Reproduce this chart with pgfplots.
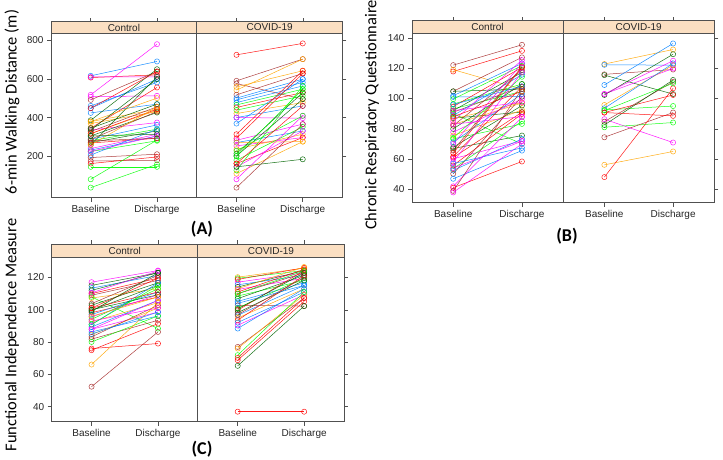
\documentclass[border=0pt]{standalone}
\usepackage{fontspec}
\setmainfont{Liberation Sans}
\newfontfamily\calfont{Carlito}
\usepackage{pgfplots}
\pgfplotsset{compat=1.18}
\definecolor{cB}{HTML}{0080FF}
\definecolor{cM}{HTML}{FF00FF}
\definecolor{cD}{HTML}{006400}
\definecolor{cR}{HTML}{FF0000}
\definecolor{cO}{HTML}{FFA500}
\definecolor{cG}{HTML}{00FF00}
\definecolor{cW}{HTML}{A52A2A}
\definecolor{stripcol}{HTML}{FBDFC2}
\definecolor{framecol}{HTML}{505050}
\pgfplotsset{
  lb/.style={color=cB}, lm/.style={color=cM}, ld/.style={color=cD},
  lr/.style={color=cR}, lo/.style={color=cO}, lg/.style={color=cG}, lw/.style={color=cW},
  panel/.style={
    scale only axis, anchor=south west, clip=false,
    xmin=0.4, xmax=4.8,
    xtick={1,2,3.2,4.2}, xticklabels={Baseline,Discharge,Baseline,Discharge},
    tick align=outside, xtick pos=bottom,
    major tick length=4pt,
    tick style={framecol, line width=0.5pt},
    axis line style={framecol, line width=0.6pt},
    ticklabel style={font=\fontsize{10}{12}\selectfont, text=black!85},
    /pgf/number format/assume math mode=true,
    every axis plot/.append style={line width=0.5pt, mark=o, mark size=2.6pt, mark options={solid, line width=0.5pt}, opacity=0.9},
  },
}
\newcommand{\strips}[1]{%
  \draw[framecol, line width=0.6pt, fill=stripcol] (rel axis cs:0,1) rectangle ([yshift=#1]rel axis cs:1,1);
  \draw[framecol, line width=1.1pt] (rel axis cs:0.5,0) -- ([yshift=#1]rel axis cs:0.5,1);
  \node[font=\fontsize{10}{12}\selectfont, text=black!85] at ([yshift=#1/2]rel axis cs:0.25,1) {Control};
  \node[font=\fontsize{10}{12}\selectfont, text=black!85] at ([yshift=#1/2]rel axis cs:0.75,1) {COVID-19};
  \draw[framecol, line width=0.5pt] ([yshift=#1]rel axis cs:0.13636,1) -- ([yshift=#1+4pt]rel axis cs:0.13636,1);
  \draw[framecol, line width=0.5pt] ([yshift=#1]rel axis cs:0.36364,1) -- ([yshift=#1+4pt]rel axis cs:0.36364,1);
  \draw[framecol, line width=0.5pt] ([yshift=#1]rel axis cs:0.63636,1) -- ([yshift=#1+4pt]rel axis cs:0.63636,1);
  \draw[framecol, line width=0.5pt] ([yshift=#1]rel axis cs:0.86364,1) -- ([yshift=#1+4pt]rel axis cs:0.86364,1);
}
\begin{document}
\begin{tikzpicture}
\path[use as bounding box] (0,0) rectangle (723pt,459pt);
% ---------------- Panel A ----------------
\begin{axis}[panel, at={(51pt,261.3pt)}, width=291.5pt, height=164.4pt,
  ymin=-12, ymax=835, ytick={200,400,600,800}]
\addplot[lb] coordinates {(1,616) (2,690)};
\addplot[lr] coordinates {(1,607) (2,621)};
\addplot[lm] coordinates {(1,610) (2,611)};
\addplot[lm] coordinates {(1,518) (2,779)};
\addplot[lm] coordinates {(1,508) (2,513)};
\addplot[lw] coordinates {(1,492) (2,638)};
\addplot[lb] coordinates {(1,461) (2,582)};
\addplot[lb] coordinates {(1,449) (2,599)};
\addplot[lb] coordinates {(1,425) (2,470)};
\addplot[ld] coordinates {(1,387) (2,650)};
\addplot[lo] coordinates {(1,380) (2,444)};
\addplot[lo] coordinates {(1,370) (2,432)};
\addplot[lr] coordinates {(1,346) (2,556)};
\addplot[lm] coordinates {(1,337) (2,375)};
\addplot[lw] coordinates {(1,329) (2,456)};
\addplot[lo] coordinates {(1,318) (2,439)};
\addplot[ld] coordinates {(1,306) (2,427)};
\addplot[lb] coordinates {(1,289) (2,363)};
\addplot[lg] coordinates {(1,281) (2,341)};
\addplot[ld] coordinates {(1,272) (2,332)};
\addplot[ld] coordinates {(1,260) (2,611)};
\addplot[lr] coordinates {(1,270) (2,294)};
\addplot[lm] coordinates {(1,241) (2,315)};
\addplot[lb] coordinates {(1,233) (2,306)};
\addplot[lg] coordinates {(1,226) (2,281)};
\addplot[lb] coordinates {(1,208) (2,341)};
\addplot[lw] coordinates {(1,195) (2,212)};
\addplot[lw] coordinates {(1,177) (2,181)};
\addplot[lr] coordinates {(1,164) (2,198)};
\addplot[lg] coordinates {(1,147) (2,147)};
\addplot[lg] coordinates {(1,40) (2,160)};
\addplot[lg] coordinates {(1,83) (2,285)};
\addplot[lo] coordinates {(1,380) (2,501)};
\addplot[ld] coordinates {(1,346) (2,470)};
\addplot[lr] coordinates {(1,318) (2,444)};
\addplot[lw] coordinates {(1,289) (2,432)};
\addplot[lo] coordinates {(1,260) (2,456)};
\addplot[lm] coordinates {(1,226) (2,306)};
\addplot[ld] coordinates {(1,337) (2,599)};
\addplot[lr] coordinates {(1,449) (2,638)};
\addplot[lw] coordinates {(1,281) (2,294)};
\addplot[ld] coordinates {(1,306) (2,315)};
% COVID
\addplot[lr] coordinates {(3.2,724) (4.2,783)};
\addplot[lw] coordinates {(3.2,590) (4.2,702)};
\addplot[lw] coordinates {(3.2,576) (4.2,496)};
\addplot[lo] coordinates {(3.2,559) (4.2,642)};
\addplot[lo] coordinates {(3.2,542) (4.2,702)};
\addplot[lw] coordinates {(3.2,518) (4.2,628)};
\addplot[lb] coordinates {(3.2,501) (4.2,599)};
\addplot[lb] coordinates {(3.2,492) (4.2,582)};
\addplot[lb] coordinates {(3.2,478) (4.2,564)};
\addplot[lg] coordinates {(3.2,466) (4.2,547)};
\addplot[lr] coordinates {(3.2,453) (4.2,530)};
\addplot[lg] coordinates {(3.2,439) (4.2,513)};
\addplot[lo] coordinates {(3.2,422) (4.2,478)};
\addplot[lb] coordinates {(3.2,401) (4.2,461)};
\addplot[lb] coordinates {(3.2,370) (4.2,599)};
\addplot[lm] coordinates {(3.2,401) (4.2,398)};
\addplot[lr] coordinates {(3.2,315) (4.2,642)};
\addplot[lr] coordinates {(3.2,294) (4.2,628)};
\addplot[lm] coordinates {(3.2,284) (4.2,367)};
\addplot[lb] coordinates {(3.2,272) (4.2,332)};
\addplot[lm] coordinates {(3.2,255) (4.2,298)};
\addplot[lo] coordinates {(3.2,238) (4.2,315)};
\addplot[ld] coordinates {(3.2,215) (4.2,530)};
\addplot[ld] coordinates {(3.2,203) (4.2,496)};
\addplot[lg] coordinates {(3.2,181) (4.2,353)};
\addplot[lr] coordinates {(3.2,164) (4.2,298)};
\addplot[lm] coordinates {(3.2,147) (4.2,332)};
\addplot[lg] coordinates {(3.2,129) (4.2,564)};
\addplot[lo] coordinates {(3.2,112) (4.2,277)};
\addplot[lm] coordinates {(3.2,83) (4.2,410)};
\addplot[lw] coordinates {(3.2,40) (4.2,367)};
\addplot[ld] coordinates {(3.2,147) (4.2,186)};
\addplot[lg] coordinates {(3.2,230) (4.2,410)};
\addplot[lo] coordinates {(3.2,272) (4.2,277)};
\addplot[lg] coordinates {(3.2,203) (4.2,547)};
\addplot[lr] coordinates {(3.2,164) (4.2,461)};
\strips{11.6pt}
\end{axis}
% ---------------- Panel B ----------------
\begin{axis}[panel, at={(412pt,256.3pt)}, width=302.3pt, height=169.4pt,
  ymin=31.2, ymax=143, ytick={40,60,...,140}]
\addplot[lw] coordinates {(1,122) (2,135.4)};
\addplot[lr] coordinates {(1,117.8) (2,131.4)};
\addplot[lo] coordinates {(1,119) (2,106)};
\addplot[lw] coordinates {(1,104.7) (2,127.1)};
\addplot[ld] coordinates {(1,104.7) (2,106.2)};
\addplot[lb] coordinates {(1,101.8) (2,123.1)};
\addplot[lb] coordinates {(1,101) (2,101.2)};
\addplot[lg] coordinates {(1,99.6) (2,121.6)};
\addplot[lg] coordinates {(1,96.3) (2,109.5)};
\addplot[lr] coordinates {(1,94.6) (2,120.5)};
\addplot[lg] coordinates {(1,93.1) (2,104.7)};
\addplot[ld] coordinates {(1,92) (2,117.2)};
\addplot[lw] coordinates {(1,90.9) (2,107.8)};
\addplot[lg] coordinates {(1,90) (2,70)};
\addplot[lb] coordinates {(1,88.7) (2,115.7)};
\addplot[ld] coordinates {(1,87) (2,91)};
\addplot[lo] coordinates {(1,86.5) (2,97.4)};
\addplot[lm] coordinates {(1,85) (2,125.3)};
\addplot[lo] coordinates {(1,82.8) (2,97)};
\addplot[lw] coordinates {(1,82) (2,118.7)};
\addplot[ld] coordinates {(1,79.9) (2,109.5)};
\addplot[lm] coordinates {(1,77.7) (2,99.7)};
\addplot[lo] coordinates {(1,75.5) (2,92.4)};
\addplot[lg] coordinates {(1,74) (2,114.3)};
\addplot[lg] coordinates {(1,73.3) (2,83.2)};
\addplot[lb] coordinates {(1,71.1) (2,103)};
\addplot[ld] coordinates {(1,67.8) (2,95.3)};
\addplot[ld] coordinates {(1,67) (2,75.5)};
\addplot[lw] coordinates {(1,65.7) (2,121)};
\addplot[lr] coordinates {(1,61.7) (2,107.8)};
\addplot[lr] coordinates {(1,61) (2,90.9)};
\addplot[lm] coordinates {(1,60.2) (2,72)};
\addplot[lm] coordinates {(1,58) (2,117.2)};
\addplot[lr] coordinates {(1,55.8) (2,89.8)};
\addplot[lg] coordinates {(1,53.6) (2,85)};
\addplot[lb] coordinates {(1,52.5) (2,73.3)};
\addplot[lw] coordinates {(1,50.3) (2,101.2)};
\addplot[lb] coordinates {(1,47) (2,65.6)};
\addplot[lm] coordinates {(1,42) (2,87.6)};
\addplot[lr] coordinates {(1,41.1) (2,58.4)};
\addplot[lw] coordinates {(1,39) (2,106.2)};
\addplot[lm] coordinates {(1,38) (2,70)};
\addplot[lb] coordinates {(1,57) (2,67.4)};
\addplot[lm] coordinates {(1,54) (2,71.8)};
\addplot[lr] coordinates {(1,64) (2,120.5)};
\addplot[lm] coordinates {(1,92) (2,97.4)};
\addplot[lm] coordinates {(1,83) (2,88)};
\addplot[lb] coordinates {(1,96) (2,108)};
\addplot[lm] coordinates {(1,70) (2,123.1)};
\addplot[lr] coordinates {(1,88) (2,104.7)};
% COVID
\addplot[lo] coordinates {(3.2,122.7) (4.2,132.3)};
\addplot[lb] coordinates {(3.2,122.2) (4.2,122)};
\addplot[lw] coordinates {(3.2,115.9) (4.2,119.1)};
\addplot[ld] coordinates {(3.2,115.4) (4.2,102.9)};
\addplot[lb] coordinates {(3.2,108.9) (4.2,136.3)};
\addplot[lm] coordinates {(3.2,102.9) (4.2,119.8)};
\addplot[ld] coordinates {(3.2,102.3) (4.2,129.2)};
\addplot[lo] coordinates {(3.2,95.7) (4.2,122)};
\addplot[lb] coordinates {(3.2,93.5) (4.2,123.1)};
\addplot[lg] coordinates {(3.2,92.4) (4.2,95.0)};
\addplot[lr] coordinates {(3.2,90.7) (4.2,102.3)};
\addplot[lm] coordinates {(3.2,86.3) (4.2,70.9)};
\addplot[lw] coordinates {(3.2,84.7) (4.2,111)};
\addplot[ld] coordinates {(3.2,82.5) (4.2,112.2)};
\addplot[lg] coordinates {(3.2,81.0) (4.2,84.1)};
\addplot[lw] coordinates {(3.2,74.4) (4.2,90.7)};
\addplot[lo] coordinates {(3.2,56.2) (4.2,65.0)};
\addplot[lr] coordinates {(3.2,48.1) (4.2,106.7)};
\addplot[lr] coordinates {(3.2,90.7) (4.2,88.5)};
\addplot[lm] coordinates {(3.2,103) (4.2,124.9)};
\addplot[lg] coordinates {(3.2,92) (4.2,110)};
\strips{12.6pt}
\end{axis}
% ---------------- Panel C ----------------
\begin{axis}[panel, at={(51.7pt,37.3pt)}, width=292.3pt, height=164.4pt,
  ymin=30.7, ymax=132.5, ytick={40,60,...,120}]
\addplot[lm] coordinates {(1,117.1) (2,124.3)};
\addplot[ld] coordinates {(1,115.1) (2,122.9)};
\addplot[lb] coordinates {(1,113.4) (2,121.3)};
\addplot[ld] coordinates {(1,112.0) (2,123.0)};
\addplot[lr] coordinates {(1,110.0) (2,119.6)};
\addplot[lw] coordinates {(1,109) (2,118.2)};
\addplot[lo] coordinates {(1,107.3) (2,113.0)};
\addplot[lg] coordinates {(1,108) (2,88.4)};
\addplot[lw] coordinates {(1,103.8) (2,121.3)};
\addplot[ld] coordinates {(1,102.8) (2,116.7)};
\addplot[lr] coordinates {(1,101.1) (2,119.6)};
\addplot[ld] coordinates {(1,99.7) (2,115.1)};
\addplot[lr] coordinates {(1,98.2) (2,107.9)};
\addplot[lb] coordinates {(1,97.0) (2,111.0)};
\addplot[lm] coordinates {(1,95.6) (2,109.3)};
\addplot[lg] coordinates {(1,94.1) (2,113.0)};
\addplot[lo] coordinates {(1,92.5) (2,104.4)};
\addplot[lb] coordinates {(1,90.8) (2,116.7)};
\addplot[lb] coordinates {(1,89.4) (2,105.8)};
\addplot[lm] coordinates {(1,87.9) (2,98.6)};
\addplot[lb] coordinates {(1,86.3) (2,96.2)};
\addplot[lo] coordinates {(1,84.6) (2,101.1)};
\addplot[lw] coordinates {(1,83.2) (2,102.8)};
\addplot[lw] coordinates {(1,81.8) (2,93.5)};
\addplot[lg] coordinates {(1,80.1) (2,96.2)};
\addplot[lr] coordinates {(1,76.0) (2,79.1)};
\addplot[lo] coordinates {(1,66.1) (2,104.4)};
\addplot[lw] coordinates {(1,52.4) (2,86.3)};
\addplot[lr] coordinates {(1,75) (2,91.4)};
\addplot[ld] coordinates {(1,100) (2,109.3)};
\addplot[lr] coordinates {(1,101) (2,111)};
\addplot[lg] coordinates {(1,91) (2,115)};
\addplot[lm] coordinates {(1,88) (2,105.8)};
\addplot[lm] coordinates {(1,110.5) (2,124)};
\addplot[ld] coordinates {(1,99) (2,122.9)};
\addplot[lo] coordinates {(1,96) (2,107.9)};
\addplot[lb] coordinates {(1,85) (2,98.6)};
\addplot[lm] coordinates {(1,93) (2,101.1)};
% COVID
\addplot[lo] coordinates {(3.2,120.2) (4.2,125.8)};
\addplot[lg] coordinates {(3.2,119.5) (4.2,124.3)};
\addplot[lr] coordinates {(3.2,118.8) (4.2,126.0)};
\addplot[lm] coordinates {(3.2,117.1) (4.2,122.9)};
\addplot[lb] coordinates {(3.2,115.5) (4.2,121.3)};
\addplot[ld] coordinates {(3.2,114.1) (4.2,124.3)};
\addplot[lm] coordinates {(3.2,112.6) (4.2,119.6)};
\addplot[lr] coordinates {(3.2,111.0) (4.2,125.0)};
\addplot[lw] coordinates {(3.2,109.9) (4.2,122.9)};
\addplot[lg] coordinates {(3.2,108.5) (4.2,118.2)};
\addplot[ld] coordinates {(3.2,106.9) (4.2,121.3)};
\addplot[lb] coordinates {(3.2,105.2) (4.2,116.7)};
\addplot[lw] coordinates {(3.2,102.8) (4.2,102.3)};
\addplot[lg] coordinates {(3.2,101.1) (4.2,119.6)};
\addplot[lr] coordinates {(3.2,99.7) (4.2,124.3)};
\addplot[ld] coordinates {(3.2,98.2) (4.2,118.2)};
\addplot[lb] coordinates {(3.2,96.6) (4.2,115.1)};
\addplot[lo] coordinates {(3.2,94.9) (4.2,113.0)};
\addplot[lr] coordinates {(3.2,93.5) (4.2,121.3)};
\addplot[lb] coordinates {(3.2,92.1) (4.2,111.0)};
\addplot[lm] coordinates {(3.2,90.4) (4.2,109.3)};
\addplot[lb] coordinates {(3.2,88.4) (4.2,113.0)};
\addplot[lw] coordinates {(3.2,77.0) (4.2,107.3)};
\addplot[lo] coordinates {(3.2,76.0) (4.2,109.3)};
\addplot[lg] coordinates {(3.2,71.9) (4.2,111.0)};
\addplot[lr] coordinates {(3.2,70.2) (4.2,107.3)};
\addplot[lr] coordinates {(3.2,68.8) (4.2,105.2)};
\addplot[ld] coordinates {(3.2,65.3) (4.2,102.3)};
\addplot[lr] coordinates {(3.2,36.9) (4.2,36.9)};
\addplot[ld] coordinates {(3.2,100.5) (4.2,122.9)};
\addplot[lw] coordinates {(3.2,97) (4.2,120)};
\addplot[lo] coordinates {(3.2,113) (4.2,126.5)};
\addplot[lb] coordinates {(3.2,104) (4.2,115.1)};
\addplot[lg] coordinates {(3.2,110) (4.2,124)};
\strips{13.3pt}
\end{axis}
% ---------------- Labels ----------------
\node[rotate=90, font=\calfont\fontsize{16.5}{19}\selectfont] at (12pt,357pt) {6-min Walking Distance (m)};
\node[rotate=90, font=\calfont\fontsize{16.5}{19}\selectfont] at (372pt,344pt) {Chronic Respiratory Questionnaire};
\node[rotate=90, font=\calfont\fontsize{16.5}{19}\selectfont] at (12pt,124pt) {Functional Independence Measure};
\node[font=\calfont\bfseries\fontsize{18}{22}\selectfont] at (202pt,230pt) {(A)};
\node[font=\calfont\bfseries\fontsize{18}{22}\selectfont] at (567pt,223pt) {(B)};
\node[font=\calfont\bfseries\fontsize{18}{22}\selectfont] at (202pt,10pt) {(C)};
\end{tikzpicture}
\end{document}
